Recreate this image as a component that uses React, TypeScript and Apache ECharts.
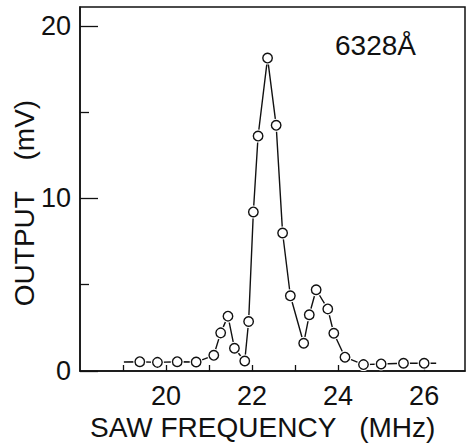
import React, { useEffect, useRef } from "react";
import * as echarts from "echarts";

// SAW frequency (MHz) and detector output (mV)
const freq = [19.39, 19.8, 20.26, 20.7, 21.11, 21.27, 21.44, 21.59, 21.83, 21.92, 22.03, 22.14, 22.36, 22.56, 22.71, 22.89, 23.2, 23.33, 23.49, 23.76, 23.9, 24.16, 24.59, 25.0, 25.52, 26.0];
const output = [0.54, 0.5, 0.54, 0.52, 0.91, 2.21, 3.18, 1.32, 0.58, 2.87, 9.22, 13.62, 18.14, 14.24, 8.0, 4.36, 1.61, 3.26, 4.71, 3.6, 2.19, 0.8, 0.37, 0.41, 0.45, 0.45];
// baseline stubs before the first and after the last measured point
const leadIn = [19.02, 0.52];
const leadOut = [26.28, 0.45];

const xTickValues = [19, 20, 21, 22, 23, 24, 25, 26];
const xLabelValues = [20, 22, 24, 26];
const yMajorValues = [0, 10, 20];
const yMinorValues = [5, 15];

const FONT = "Liberation Sans, Arial, sans-serif";
const INK = "#111";

export default function App() {
  const ref = useRef<HTMLDivElement>(null);
  useEffect(() => {
    if (!ref.current) return;
    const chart = echarts.init(ref.current, undefined, { renderer: "svg" });
    const pts = freq.map((f, i) => [f, output[i]]);
    chart.setOption({
      animation: false,
      backgroundColor: "#fff",
      grid: {
        left: 80,
        right: 4,
        top: 7,
        bottom: 72,
        show: true,
        borderColor: INK,
        borderWidth: 1.5,
      },
      xAxis: {
        type: "value",
        min: 18,
        max: 26.95,
        axisLine: { show: true, lineStyle: { color: INK, width: 1.5 } },
        axisTick: {
          show: true,
          inside: true,
          length: 6,
          customValues: xTickValues,
          lineStyle: { color: INK, width: 1.3 },
        },
        axisLabel: {
          customValues: xLabelValues,
          fontFamily: FONT,
          fontSize: 27,
          color: INK,
          margin: 11,
        },
        splitLine: { show: false },
      },
      yAxis: [
        {
          type: "value",
          min: 0,
          max: 21.1,
          position: "left",
          offset: 0,
          axisLine: { show: true, lineStyle: { color: INK, width: 1.5 } },
          axisTick: {
            show: true,
            inside: true,
            length: 18,
            customValues: yMajorValues,
            lineStyle: { color: INK, width: 1.3 },
          },
          axisLabel: {
            customValues: yMajorValues,
            fontFamily: FONT,
            fontSize: 27,
            color: INK,
            margin: 9,
          },
          splitLine: { show: false },
        },
        {
          type: "value",
          min: 0,
          max: 21.1,
          position: "left",
          offset: 0,
          axisLine: { show: false },
          axisTick: {
            show: true,
            inside: true,
            length: 9,
            customValues: yMinorValues,
            lineStyle: { color: INK, width: 1.3 },
          },
          axisLabel: { show: false },
          splitLine: { show: false },
        },
      ],
      series: [
        {
          type: "line",
          data: [leadIn, ...pts, leadOut],
          showSymbol: false,
          symbol: "none",
          lineStyle: { color: INK, width: 1.4 },
          z: 2,
        },
        {
          type: "scatter",
          data: pts,
          symbol: "circle",
          symbolSize: 13,
          itemStyle: { color: "#fff", opacity: 1 },
          z: 3,
          silent: true,
        },
        {
          type: "scatter",
          data: pts,
          symbol: "circle",
          symbolSize: 9.5,
          itemStyle: { color: "#fff", borderColor: INK, borderWidth: 1.4, opacity: 1 },
          z: 4,
        },
      ],
      graphic: [
        {
          type: "text",
          x: 90,
          y: 427,
          style: {
            text: "SAW FREQUENCY   (MHz)",
            fontFamily: FONT,
            fontSize: 28,
            fill: INK,
            textAlign: "left",
            textVerticalAlign: "middle",
          },
        },
        {
          type: "text",
          x: 24,
          y: 203,
          rotation: Math.PI / 2,
          style: {
            text: "OUTPUT    (mV)",
            fontFamily: FONT,
            fontSize: 28,
            fill: INK,
            textAlign: "center",
            textVerticalAlign: "middle",
          },
        },
        {
          type: "text",
          x: 335,
          y: 45,
          style: {
            text: "6328Å",
            fontFamily: FONT,
            fontSize: 28,
            fill: INK,
            textAlign: "left",
            textVerticalAlign: "middle",
          },
        },
      ],
    });
    return () => chart.dispose();
  }, []);
  return (
    <div
      ref={ref}
      style={{ position: "fixed", left: 0, top: 0, width: 469, height: 443 }}
    />
  );
}
